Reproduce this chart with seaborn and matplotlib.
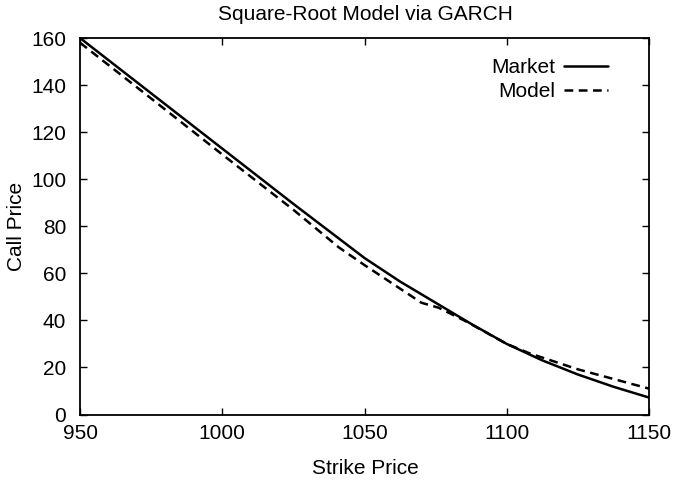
import matplotlib
matplotlib.use("Agg")
import matplotlib.pyplot as plt
import seaborn as sns
import pandas as pd

title = "Square-Root Model via GARCH"
x_label = "Strike Price"
y_label = "Call Price"
series_names = ["Market", "Model"]

market_strike = [950, 975, 1000, 1025, 1037.5, 1050, 1062.5, 1075, 1087.5, 1100, 1112.5, 1125, 1137.5, 1150]
market_price = [160, 136.5, 113, 89.5, 78, 66.5, 56.5, 47.5, 38.5, 30, 23, 17, 11.8, 7.2]

model_strike = [950, 975, 1000, 1025, 1041, 1050, 1070, 1076, 1085, 1100, 1108, 1125, 1150]
model_price = [158, 134.3, 110.5, 87, 71, 63.5, 47.5, 45.4, 40, 30, 26, 19.2, 11]

x_ticks = [950, 1000, 1050, 1100, 1150]
y_ticks = [0, 20, 40, 60, 80, 100, 120, 140, 160]

df = pd.concat([
    pd.DataFrame({"strike": market_strike, "price": market_price, "series": series_names[0]}),
    pd.DataFrame({"strike": model_strike, "price": model_price, "series": series_names[1]}),
], ignore_index=True)

sns.set_theme(style="ticks")
plt.rcParams["font.family"] = ["Liberation Sans", "DejaVu Sans"]
plt.rcParams["font.size"] = 15
plt.rcParams["text.color"] = "black"
plt.rcParams["axes.labelcolor"] = "black"

fig = plt.figure(figsize=(6.74, 4.8), dpi=100)
ax = fig.add_axes([80 / 674, 1 - 414.5 / 480, (649 - 80) / 674, (414.5 - 38) / 480])

sns.lineplot(
    data=df, x="strike", y="price", hue="series", style="series",
    palette={"Market": "black", "Model": "black"},
    dashes={"Market": "", "Model": (3.5, 2.2)},
    linewidth=1.8, sort=False, estimator=None, ax=ax,
)

ax.set_xlim(950, 1150)
ax.set_ylim(0, 160)
ax.set_xticks(x_ticks)
ax.set_yticks(y_ticks)
ax.tick_params(direction="in", length=5, width=1.0, top=True, right=True,
               labelsize=15, colors="black")
ax.tick_params(axis="x", pad=7)
ax.tick_params(axis="y", pad=10)
for s in ax.spines.values():
    s.set_visible(True)
    s.set_linewidth(1.3)
    s.set_color("black")

ax.set_xlabel("")
ax.set_ylabel("")
fig.text(365 / 674, 1 - 468 / 480, x_label, ha="center", va="center", fontsize=15, color="black")
fig.text(17 / 674, 1 - 226 / 480, y_label, ha="center", va="center", rotation=90, fontsize=15, color="black")
fig.text(365 / 674, 1 - 14 / 480, title, ha="center", va="center", fontsize=15, color="black")

handles, labels = ax.get_legend_handles_labels()
leg = ax.legend(handles, labels, loc="upper right", frameon=False, markerfirst=False,
                bbox_to_anchor=(608 / 674, 1 - 58 / 480), bbox_transform=fig.transFigure,
                borderpad=0, borderaxespad=0, handlelength=2.1, handletextpad=0.45,
                labelspacing=0.25, fontsize=15)
for t in leg.get_texts():
    t.set_color("black")

fig.savefig("out.png", dpi=100)
